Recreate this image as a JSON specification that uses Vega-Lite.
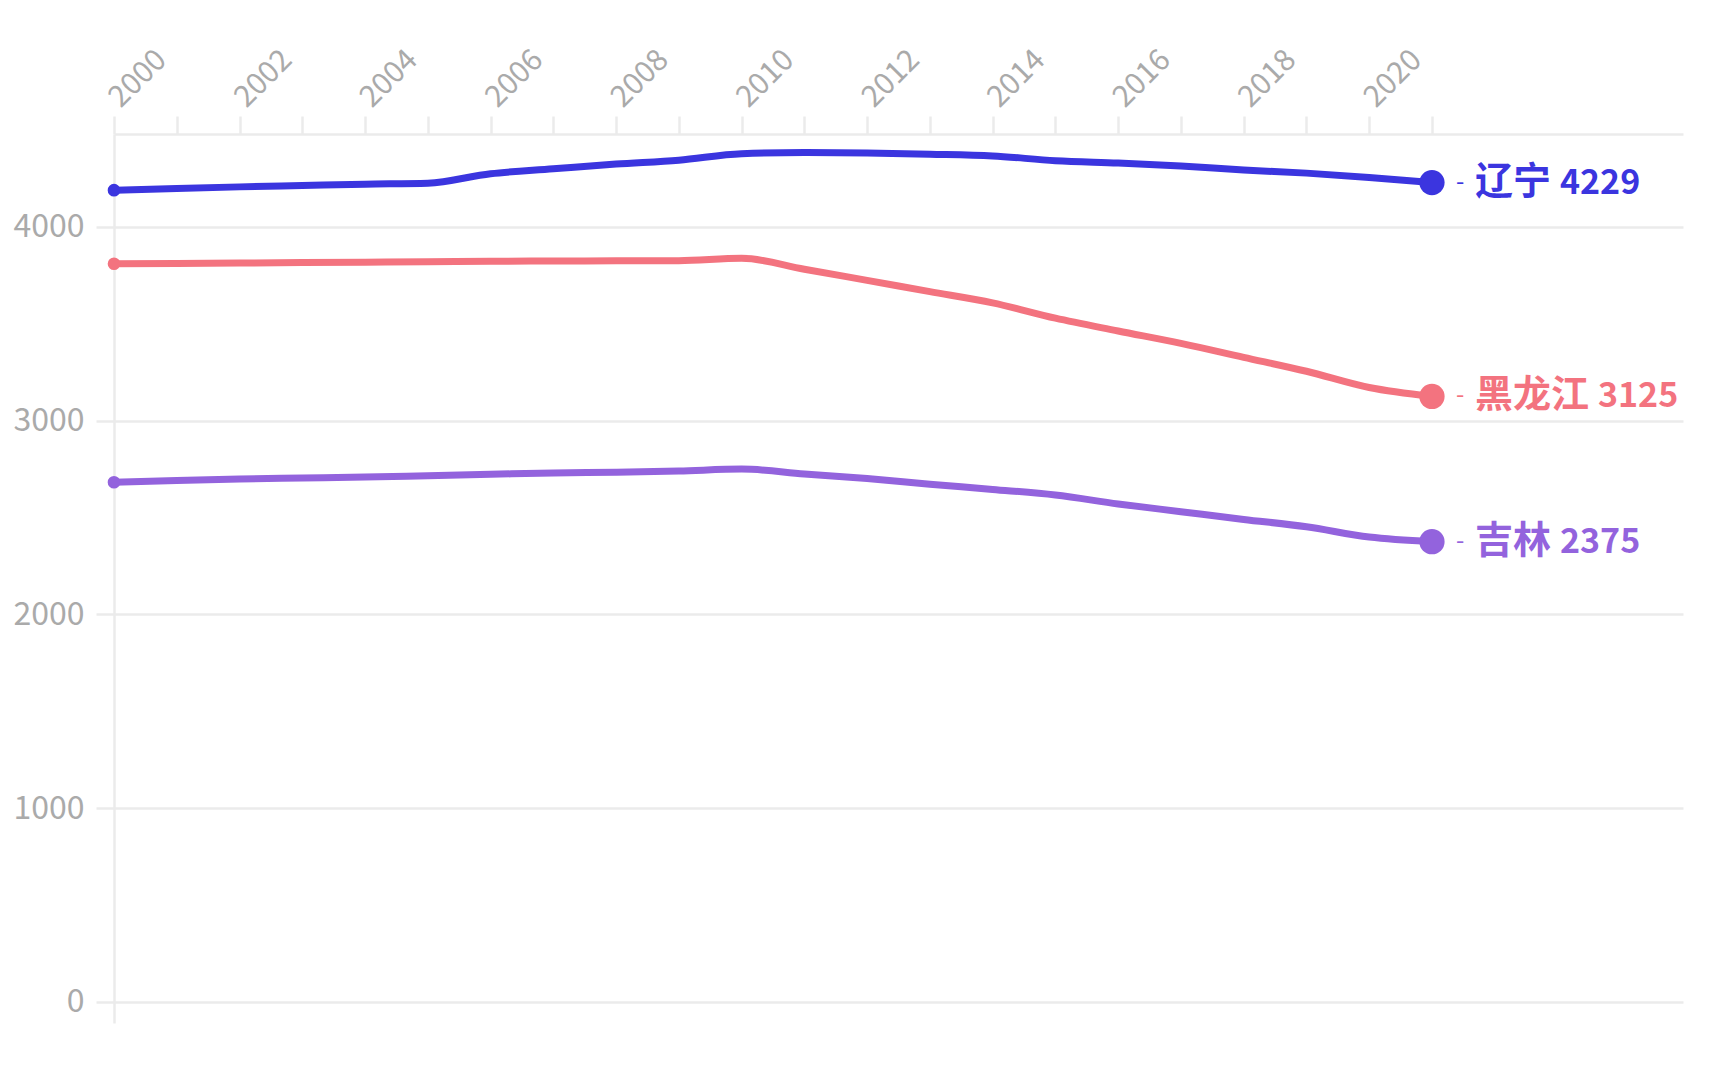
{
  "$schema": "https://vega.github.io/schema/vega-lite/v6.json",
  "width": 1569,
  "height": 889,
  "autosize": {"type": "none"},
  "padding": {"left": 114, "top": 134, "right": 45, "bottom": 57},
  "background": "white",
  "config": {"view": {"stroke": null}, "font": "Noto Sans CJK SC"},
  "data": {"values": [
    {"year": 2000, "province": "辽宁", "value": 4190},
    {"year": 2001, "province": "辽宁", "value": 4199},
    {"year": 2002, "province": "辽宁", "value": 4207},
    {"year": 2003, "province": "辽宁", "value": 4214},
    {"year": 2004, "province": "辽宁", "value": 4221},
    {"year": 2005, "province": "辽宁", "value": 4226},
    {"year": 2006, "province": "辽宁", "value": 4275},
    {"year": 2007, "province": "辽宁", "value": 4300},
    {"year": 2008, "province": "辽宁", "value": 4325},
    {"year": 2009, "province": "辽宁", "value": 4345},
    {"year": 2010, "province": "辽宁", "value": 4378},
    {"year": 2011, "province": "辽宁", "value": 4384},
    {"year": 2012, "province": "辽宁", "value": 4382},
    {"year": 2013, "province": "辽宁", "value": 4376},
    {"year": 2014, "province": "辽宁", "value": 4367},
    {"year": 2015, "province": "辽宁", "value": 4342},
    {"year": 2016, "province": "辽宁", "value": 4330},
    {"year": 2017, "province": "辽宁", "value": 4315},
    {"year": 2018, "province": "辽宁", "value": 4294},
    {"year": 2019, "province": "辽宁", "value": 4278},
    {"year": 2020, "province": "辽宁", "value": 4256},
    {"year": 2021, "province": "辽宁", "value": 4229},
    {"year": 2000, "province": "黑龙江", "value": 3810},
    {"year": 2001, "province": "黑龙江", "value": 3812},
    {"year": 2002, "province": "黑龙江", "value": 3814},
    {"year": 2003, "province": "黑龙江", "value": 3816},
    {"year": 2004, "province": "黑龙江", "value": 3818},
    {"year": 2005, "province": "黑龙江", "value": 3820},
    {"year": 2006, "province": "黑龙江", "value": 3823},
    {"year": 2007, "province": "黑龙江", "value": 3824},
    {"year": 2008, "province": "黑龙江", "value": 3825},
    {"year": 2009, "province": "黑龙江", "value": 3826},
    {"year": 2010, "province": "黑龙江", "value": 3838},
    {"year": 2011, "province": "黑龙江", "value": 3782},
    {"year": 2012, "province": "黑龙江", "value": 3724},
    {"year": 2013, "province": "黑龙江", "value": 3666},
    {"year": 2014, "province": "黑龙江", "value": 3608},
    {"year": 2015, "province": "黑龙江", "value": 3529},
    {"year": 2016, "province": "黑龙江", "value": 3463},
    {"year": 2017, "province": "黑龙江", "value": 3399},
    {"year": 2018, "province": "黑龙江", "value": 3327},
    {"year": 2019, "province": "黑龙江", "value": 3255},
    {"year": 2020, "province": "黑龙江", "value": 3171},
    {"year": 2021, "province": "黑龙江", "value": 3125},
    {"year": 2000, "province": "吉林", "value": 2682},
    {"year": 2001, "province": "吉林", "value": 2691},
    {"year": 2002, "province": "吉林", "value": 2699},
    {"year": 2003, "province": "吉林", "value": 2704},
    {"year": 2004, "province": "吉林", "value": 2709},
    {"year": 2005, "province": "吉林", "value": 2716},
    {"year": 2006, "province": "吉林", "value": 2723},
    {"year": 2007, "province": "吉林", "value": 2730},
    {"year": 2008, "province": "吉林", "value": 2734},
    {"year": 2009, "province": "吉林", "value": 2740},
    {"year": 2010, "province": "吉林", "value": 2750},
    {"year": 2011, "province": "吉林", "value": 2725},
    {"year": 2012, "province": "吉林", "value": 2701},
    {"year": 2013, "province": "吉林", "value": 2672},
    {"year": 2014, "province": "吉林", "value": 2645},
    {"year": 2015, "province": "吉林", "value": 2616},
    {"year": 2016, "province": "吉林", "value": 2570},
    {"year": 2017, "province": "吉林", "value": 2530},
    {"year": 2018, "province": "吉林", "value": 2490},
    {"year": 2019, "province": "吉林", "value": 2452},
    {"year": 2020, "province": "吉林", "value": 2399},
    {"year": 2021, "province": "吉林", "value": 2375}
  ]},
  "encoding": {
    "x": {
      "field": "year", "type": "quantitative",
      "scale": {"domain": [2000, 2025], "nice": false, "zero": false},
      "axis": {
        "orient": "top", "title": null,
        "values": [2000,2001,2002,2003,2004,2005,2006,2007,2008,2009,2010,2011,2012,2013,2014,2015,2016,2017,2018,2019,2020,2021],
        "format": "d",
        "labelExpr": "datum.value % 2 == 0 ? datum.label : ''",
        "labelAngle": -45, "labelAlign": "left", "labelBaseline": "middle",
        "labelPadding": 14, "labelFontSize": 30, "labelColor": "#aaaaaa",
        "labelOverlap": false,
        "tickSize": 18, "tickColor": "#ebebeb", "tickWidth": 2.5,
        "domainColor": "#ebebeb", "domainWidth": 2.5,
        "grid": false
      }
    },
    "y": {
      "field": "value", "type": "quantitative",
      "scale": {"domain": [-110, 4480], "nice": false, "zero": false},
      "axis": {
        "title": null, "values": [0, 1000, 2000, 3000, 4000], "format": "d",
        "labelFontSize": 32, "labelColor": "#aaaaaa", "labelPadding": 12,
        "tickSize": 18, "tickColor": "#ebebeb", "tickWidth": 2.5,
        "domainColor": "#ebebeb", "domainWidth": 2.5,
        "grid": true, "gridColor": "#ebebeb", "gridWidth": 2.5
      }
    },
    "color": {
      "field": "province", "type": "nominal",
      "scale": {"domain": ["辽宁", "黑龙江", "吉林"], "range": ["#3B35DF", "#F3737F", "#9363DD"]},
      "legend": null
    }
  },
  "layer": [
    {"mark": {"type": "line", "interpolate": "monotone", "strokeWidth": 7, "strokeCap": "round"}},
    {
      "transform": [{"filter": "datum.year == 2000"}],
      "mark": {"type": "circle", "size": 160, "opacity": 1}
    },
    {
      "transform": [{"filter": "datum.year == 2021"}],
      "mark": {"type": "circle", "size": 640, "opacity": 1}
    },
    {
      "transform": [{"filter": "datum.year == 2021"}],
      "mark": {"type": "text", "text": "-", "align": "left", "baseline": "middle", "dx": 24, "fontSize": 24, "color": "#aaaaaa"}
    },
    {
      "transform": [{"filter": "datum.year == 2021"}],
      "mark": {"type": "text", "align": "left", "baseline": "middle", "dx": 43, "fontSize": 38, "fontWeight": "bold"},
      "encoding": {"text": {"field": "province"}}
    },
    {
      "transform": [{"filter": "datum.year == 2021 && length(datum.province) == 2"}],
      "mark": {"type": "text", "align": "left", "baseline": "middle", "dx": 128, "dy": 1, "fontSize": 34, "fontWeight": "bold"},
      "encoding": {"text": {"field": "value", "type": "quantitative", "format": "d"}}
    },
    {
      "transform": [{"filter": "datum.year == 2021 && length(datum.province) == 3"}],
      "mark": {"type": "text", "align": "left", "baseline": "middle", "dx": 166, "dy": 1, "fontSize": 34, "fontWeight": "bold"},
      "encoding": {"text": {"field": "value", "type": "quantitative", "format": "d"}}
    }
  ]
}
